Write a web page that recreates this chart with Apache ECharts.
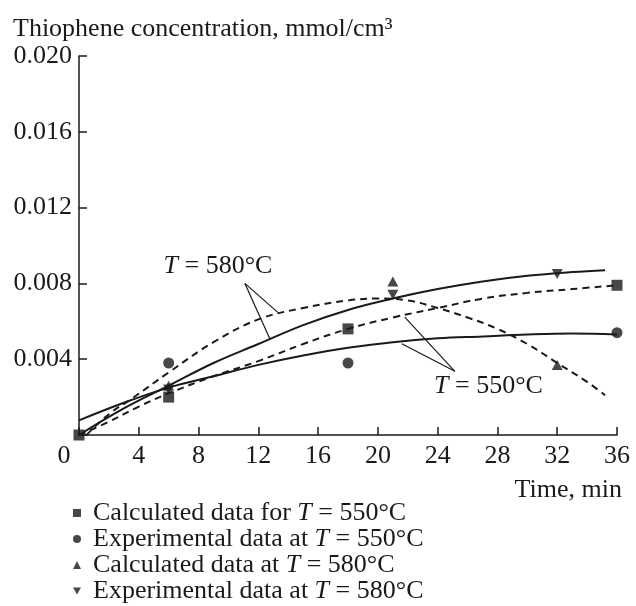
<!DOCTYPE html>
<html>
<head>
<meta charset="utf-8">
<script src="https://cdn.jsdelivr.net/npm/echarts@6/dist/echarts.min.js"></script>
<style>
  html, body { margin: 0; padding: 0; background: #fff; }
  #chart { width: 636px; height: 606px; }
</style>
</head>
<body>
<div id="chart"></div>
<script>
// points [time, concentration]
const calc550 = [[0, 0], [6, 0.0020], [18, 0.0056], [36, 0.0079]]
const exp550 = [[6, 0.0038], [18, 0.0038], [36, 0.0054]]
const calc580 = [[6, 0.0026], [21, 0.0081], [32, 0.0037]]
const exp580 = [[6, 0.0024], [21, 0.0074], [32, 0.0085]]

// curves
const curve550Dashed = [[0, 0], [2, 0.0007], [4, 0.0015], [6, 0.0022], [9, 0.0031], [12, 0.0039], [15, 0.0048], [18, 0.0056], [21, 0.0062], [24, 0.0067], [27, 0.0072], [30, 0.0075], [33, 0.0077], [36, 0.0079]]
const curve550Solid = [[0, 0.00077], [3, 0.0017], [6, 0.0025], [9, 0.0031], [12, 0.0037], [15, 0.0042], [18, 0.0046], [21, 0.0049], [24, 0.0051], [27, 0.0052], [30, 0.0053], [33, 0.00535], [36, 0.0053]]
const curve580Dashed = [[0.5, 0], [2, 0.0011], [3.5, 0.0019], [6, 0.0033], [9, 0.0049], [12, 0.0061], [15, 0.0067], [18, 0.0071], [20, 0.0072], [22, 0.0071], [24, 0.0067], [26, 0.0062], [28, 0.0056], [30, 0.0048], [32, 0.0038], [34, 0.0028], [35.2, 0.0021]]
const curve580Solid = [[0, 0], [3, 0.0014], [6, 0.0026], [9, 0.0038], [12, 0.0048], [15, 0.0058], [18, 0.0066], [21, 0.0072], [24, 0.0077], [27, 0.0081], [30, 0.0084], [33, 0.0086], [35.2, 0.0087]]

// annotation leaders: [from, to]
const leaders580 = [[[11.1, 0.0080], [13.3, 0.00647]], [[11.1, 0.0080], [12.8, 0.00503]]]
const leaders550 = [[[25.15, 0.00336], [21.8, 0.00622]], [[25.15, 0.00336], [21.6, 0.00482]]]
const labels = [{ text: '580', at: [9.3, 0.00889] }, { text: '550', at: [27.4, 0.00257] }]

const legendNames = {
  calc550: 'Calculated data for {i|T} = 550°C',
  exp550: 'Experimental data at {i|T} = 550°C',
  calc580: 'Calculated data at {i|T} = 580°C',
  exp580: 'Experimental data at {i|T} = 580°C'
}

const FONT = 'Liberation Serif'
const FS = 26
const INK = '#1a1a1a'
const downTri = 'path://M0,0 L10,0 L5,9 Z'

function curve (data, dashed) {
  return {
    type: 'line',
    data: data,
    smooth: 0.4,
    symbol: 'none',
    silent: true,
    lineStyle: { color: INK, width: 2, type: dashed ? [7, 5] : 'solid' },
    z: 2
  }
}

function points (name, data, symbol, size) {
  return {
    name: name,
    type: 'scatter',
    data: data,
    symbol: symbol,
    symbolSize: size,
    itemStyle: { color: INK },
    z: 5
  }
}

let mychart = echarts.init(document.getElementById('chart'))
mychart.setOption({
  animation: false,
  textStyle: { fontFamily: FONT },
  title: {
    text: 'Thiophene concentration, mmol/cm³',
    left: 8,
    top: 11,
    textStyle: { fontFamily: FONT, fontSize: FS, fontWeight: 'normal', color: INK }
  },
  grid: { left: 79, right: 19, top: 56, bottom: 171 },
  xAxis: {
    type: 'value',
    min: 0,
    max: 36,
    interval: 4,
    axisLine: { lineStyle: { color: INK, width: 1.5 } },
    axisTick: { inside: true, length: 8, lineStyle: { color: INK, width: 1.5 } },
    splitLine: { show: false },
    axisLabel: {
      margin: 8,
      color: INK,
      fontFamily: FONT,
      fontSize: FS,
      formatter: v => v === 0 ? '{z|0}' : String(v),
      rich: { z: { fontFamily: FONT, fontSize: FS, color: INK, padding: [0, 30, 0, 0] } }
    }
  },
  yAxis: {
    type: 'value',
    min: 0,
    max: 0.02,
    interval: 0.004,
    axisLine: { show: true, lineStyle: { color: INK, width: 1.5 } },
    axisTick: { show: true, inside: true, length: 8, lineStyle: { color: INK, width: 1.5 } },
    splitLine: { show: false },
    axisLabel: {
      margin: 7,
      color: INK,
      fontFamily: FONT,
      fontSize: FS,
      formatter: v => v === 0 ? '' : v.toFixed(3)
    }
  },
  graphic: [{
    type: 'text',
    right: 14,
    top: 477,
    style: { text: 'Time, min', font: FS + 'px "Liberation Serif"', fill: INK }
  }],
  legend: {
    orient: 'vertical',
    left: 73,
    top: 500,
    itemWidth: 8,
    itemHeight: 8,
    itemGap: 0,
    padding: 0,
    data: ['calc550', 'exp550', 'calc580', 'exp580'],
    formatter: name => legendNames[name],
    textStyle: {
      fontFamily: FONT,
      fontSize: FS,
      lineHeight: 25,
      color: INK,
      padding: [0, 0, 0, 7],
      rich: { i: { fontFamily: FONT, fontSize: FS, lineHeight: 25, fontStyle: 'italic', color: INK } }
    }
  },
  series: [
    curve(curve550Dashed, true),
    curve(curve550Solid, false),
    curve(curve580Dashed, true),
    curve(curve580Solid, false),
    {
      type: 'line',
      data: [],
      silent: true,
      markLine: {
        symbol: 'none',
        silent: true,
        label: { show: false },
        lineStyle: { color: INK, width: 1.2, type: 'solid' },
        data: leaders580.concat(leaders550).map(p => [{ coord: p[0] }, { coord: p[1] }])
      },
      markPoint: {
        symbol: 'circle',
        symbolSize: 0,
        silent: true,
        label: {
          show: true,
          position: 'inside',
          fontFamily: FONT,
          fontSize: FS,
          color: INK,
          formatter: p => '{i|T} = ' + p.name + '°C',
          rich: { i: { fontFamily: FONT, fontSize: FS, fontStyle: 'italic', color: INK } }
        },
        data: labels.map(l => ({ name: l.text, coord: l.at }))
      }
    },
    points('calc550', calc550, 'rect', 11),
    points('exp550', exp550, 'circle', 11),
    points('calc580', calc580, 'triangle', [11, 10]),
    points('exp580', exp580, downTri, [11, 10])
  ]
})
</script>
</body>
</html>
